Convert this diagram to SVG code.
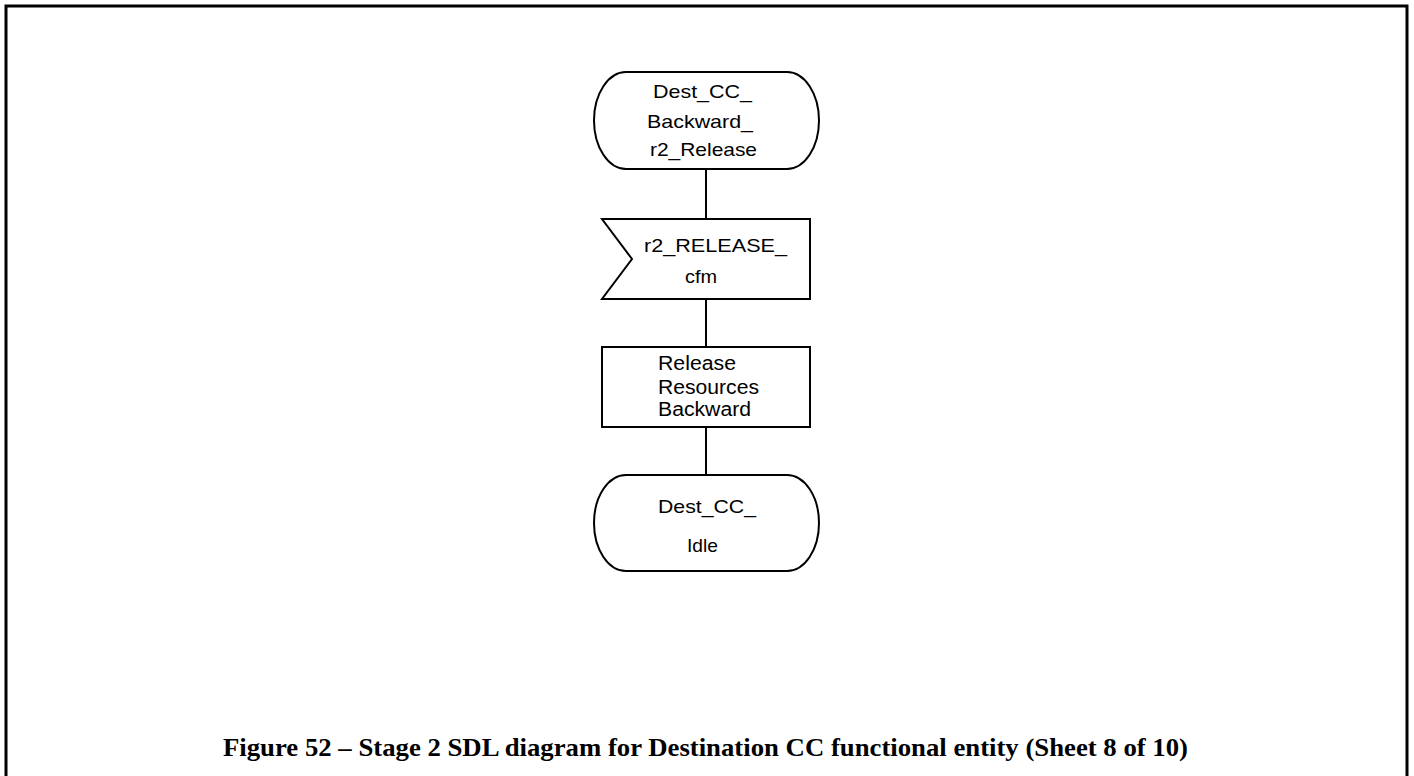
<svg xmlns="http://www.w3.org/2000/svg" width="1414" height="776" viewBox="0 0 1414 776">
<style>
.shape{fill:#fff;stroke:#000;stroke-width:2}
.conn{stroke:#000;stroke-width:2;fill:none}
.t{font-family:"Liberation Sans",Arial,sans-serif;font-size:19px;fill:#000}
.tt{font-family:"Liberation Sans",Arial,sans-serif;font-size:20px;fill:#000}
.cap{font-family:"Liberation Serif","Times New Roman",serif;font-size:25px;font-weight:bold;fill:#000}
</style>
<rect width="1414" height="776" fill="#fff"/>
<path d="M6,790 V6 H1407 V790" fill="none" stroke="#000" stroke-width="3"/>
<g id="connectors">
<line class="conn" x1="706" y1="170" x2="706" y2="219"/>
<line class="conn" x1="706" y1="299" x2="706" y2="347"/>
<line class="conn" x1="706" y1="427" x2="706" y2="475"/>
</g>
<g id="start">
<path class="shape" d="M626,72 H787 A32,48.5 0 0 1 787,169 H626 A32,48.5 0 0 1 626,72 Z"/>
<text class="t" x="653" y="98" textLength="99" lengthAdjust="spacingAndGlyphs">Dest_CC_</text>
<text class="t" x="647" y="128" textLength="106" lengthAdjust="spacingAndGlyphs">Backward_</text>
<text class="t" x="650" y="156" textLength="107" lengthAdjust="spacingAndGlyphs">r2_Release</text>
</g>
<g id="input">
<path class="shape" d="M602,219 H810 V299 H602 L632,259 Z"/>
<text class="t" x="644" y="252" textLength="143" lengthAdjust="spacingAndGlyphs">r2_RELEASE_</text>
<text class="t" x="685" y="283" textLength="32" lengthAdjust="spacingAndGlyphs">cfm</text>
</g>
<g id="task">
<rect class="shape" x="602" y="347" width="208" height="80"/>
<text class="tt" x="658" y="370" textLength="78" lengthAdjust="spacingAndGlyphs">Release</text>
<text class="tt" x="658" y="394" textLength="101" lengthAdjust="spacingAndGlyphs">Resources</text>
<text class="tt" x="658" y="416" textLength="93" lengthAdjust="spacingAndGlyphs">Backward</text>
</g>
<g id="end">
<path class="shape" d="M626,475 H787 A32,48 0 0 1 787,571 H626 A32,48 0 0 1 626,475 Z"/>
<text class="t" x="658" y="513" textLength="98" lengthAdjust="spacingAndGlyphs">Dest_CC_</text>
<text class="t" x="687" y="552" textLength="31" lengthAdjust="spacingAndGlyphs">Idle</text>
</g>
<text class="cap" x="223" y="756" textLength="965" lengthAdjust="spacingAndGlyphs">Figure 52 – Stage 2 SDL diagram for Destination CC functional entity (Sheet 8 of 10)</text>
</svg>
